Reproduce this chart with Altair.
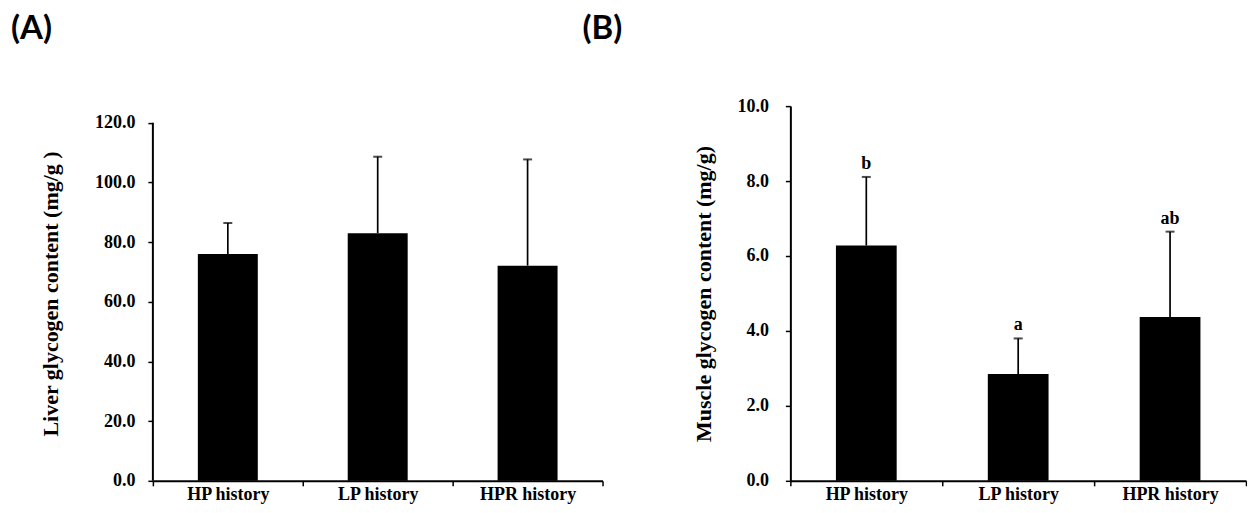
import altair as alt
import pandas as pd

groups = ["HP history", "LP history", "HPR history"]

liver_mean = [76.0, 83.0, 72.1]
liver_sd = [10.4, 25.6, 35.6]
liver_ticks = [0, 20, 40, 60, 80, 100, 120]

muscle_mean = [6.28, 2.85, 4.37]
muscle_sd = [1.83, 0.95, 2.28]
muscle_letters = ["b", "a", "ab"]
muscle_ticks = [0, 2, 4, 6, 8, 10]

SERIF = "Liberation Serif"

liver = pd.DataFrame({"group": groups, "mean": liver_mean, "sd": liver_sd})
liver["top"] = liver["mean"] + liver["sd"]
muscle = pd.DataFrame({"group": groups, "mean": muscle_mean, "sd": muscle_sd,
                       "letter": muscle_letters})
muscle["top"] = muscle["mean"] + muscle["sd"]

XAXIS = alt.Axis(labelAngle=0, tickBand="extent", labelPadding=0,
                 labelFont=SERIF, labelFontSize=18, labelFontWeight="bold",
                 labelColor="black", tickSize=5, tickWidth=1.5,
                 tickColor="black", domainColor="black", domainWidth=2)


def xenc():
    return alt.X("group:N", sort=groups, title=None,
                 scale=alt.Scale(paddingInner=0, paddingOuter=0), axis=XAXIS)


def panel(df, ytitle, ticks, dmax, width, height, label, dx, offset, lpad, tpad,
          show_domain, letters=False):
    yscale = alt.Scale(domain=[0, dmax], nice=False, zero=True)
    yaxis = alt.Axis(values=ticks, format=".1f", title=ytitle, grid=False,
                     domain=show_domain, domainColor="black", domainWidth=2,
                     tickSize=5, tickWidth=1.5, tickColor="black",
                     labelFont=SERIF, labelFontSize=18, labelFontWeight="bold",
                     labelColor="black", labelPadding=lpad,
                     titleFont=SERIF, titleFontSize=22, titleFontWeight="bold",
                     titleColor="black", titlePadding=tpad)

    def Y(field):
        return alt.Y(field, scale=yscale, axis=yaxis, title=ytitle)

    base = alt.Chart(df)
    bars = base.mark_bar(width=alt.RelativeBandSize(0.4), color="black").encode(
        x=xenc(), y=Y("mean:Q"))
    err = base.mark_rule(color="black", strokeWidth=1.7).encode(
        x=xenc(), y=Y("mean:Q"), y2="top:Q")
    cap = base.mark_tick(color="black", size=9, thickness=2).encode(
        x=xenc(), y=Y("top:Q"))
    layers = [bars, err, cap]
    if letters:
        txt = base.mark_text(font=SERIF, fontSize=18, fontWeight="bold",
                             baseline="alphabetic", dy=-8, color="black").encode(
            x=xenc(), y=Y("top:Q"), text="letter:N")
        layers.append(txt)
    if not show_domain:
        ax = alt.Chart(pd.DataFrame({"y0": [ticks[0]], "y1": [ticks[-1]]})).mark_rule(
            color="black", strokeWidth=2).encode(
            x=alt.value(0), y=Y("y0:Q"), y2="y1:Q")
        layers.append(ax)
    return alt.layer(*layers).properties(
        width=width, height=height,
        title=alt.TitleParams(label, dx=dx, offset=offset, anchor="start", frame="group"))


H = 375
A = panel(liver, "Liver glycogen content (mg/g )", liver_ticks, 120 * H / 358.4,
          450, H, "(A)", -142, 60, 13, 32, False)
B = panel(muscle, "Muscle glycogen content (mg/g)", muscle_ticks, 10,
          456, H, "(B)", -208, 51, 17, 21, True, letters=True)

chart = alt.hconcat(A, B, spacing=188, bounds="flush").properties(
    padding={"left": 3, "top": 5, "right": 0, "bottom": 0}
).configure_view(stroke=None).configure_title(
    font="Lato", fontSize=33, fontWeight="bold", color="black"
)

chart.save("out.html", embed_options={"renderer": "svg", "actions": False})
